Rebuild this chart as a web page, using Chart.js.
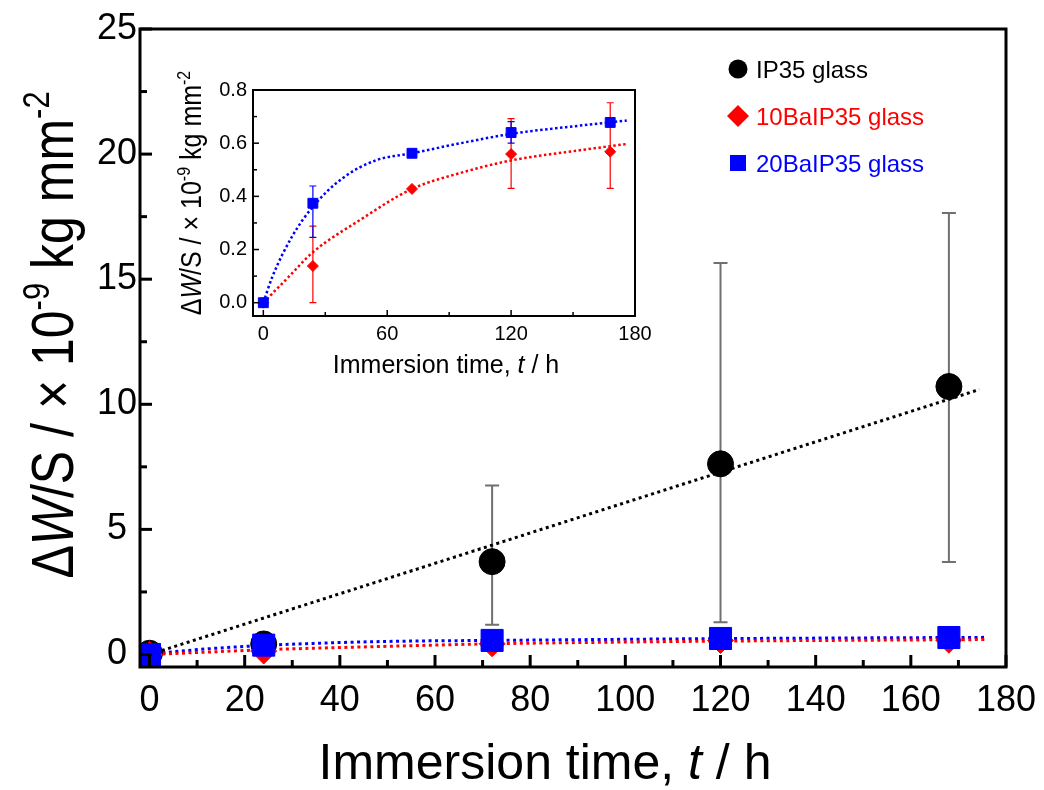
<!DOCTYPE html>
<html>
<head>
<meta charset="utf-8">
<script src="https://cdn.jsdelivr.net/npm/chart.js@4/dist/chart.umd.min.js"></script>
<style>
  html, body { margin: 0; padding: 0; background: #fff; }
  #wrap { position: relative; width: 1044px; height: 790px; }
  #mainCanvas { position: absolute; left: 0; top: 0; }
  #insetCanvas { position: absolute; left: 160px; top: 40px; }
</style>
</head>
<body>
<div id="wrap">
  <canvas id="mainCanvas" width="1044" height="790" style="width:1044px;height:790px"></canvas>
  <canvas id="insetCanvas" width="510" height="340" style="width:510px;height:340px"></canvas>
</div>
<script>
// measured points (immersion time in h, dW/S in 1e-9 kg mm^-2)
const timeH = [0, 24, 72, 120, 168];

const ip35 = [0.05, 0.42, 3.71, 7.62, 10.71];
const ip35Low = [null, null, 1.19, 1.29, 3.70];
const ip35High = [null, null, 6.75, 15.65, 17.65];

const ba10 = [0, 0.138, 0.428, 0.559, 0.568];
const ba10Low = [null, 0.0, null, 0.430, 0.430];
const ba10High = [null, 0.288, null, 0.692, 0.752];

const ba20 = [0, 0.374, 0.562, 0.640, 0.678];
const ba20Low = [null, 0.246, null, 0.600, null];
const ba20High = [null, 0.439, null, 0.681, null];

// fitted curves
const ip35FitT = [0, 174.4];
const ip35FitY = [0, 10.59];
const ba10FitT = [0, 12, 24, 46.6, 72, 95, 120, 152, 176];
const ba10FitY = [0, 0.095, 0.19, 0.31, 0.428, 0.487, 0.535, 0.572, 0.597];
const ba20FitT = [0, 4.5, 14, 24, 38.5, 54.7, 72, 95, 120, 152, 176];
const ba20FitY = [0, 0.1, 0.25, 0.361, 0.469, 0.536, 0.562, 0.599, 0.635, 0.665, 0.685];

const legendLabels = ['IP35 glass', '10BaIP35 glass', '20BaIP35 glass'];

// tick labels
const mainXTicks = [0, 20, 40, 60, 80, 100, 120, 140, 160, 180];
const mainYTicks = [0, 5, 10, 15, 20, 25];
const insetXTicks = [0, 60, 120, 180];
const insetYTicks = [0, 0.2, 0.4, 0.6, 0.8];

const FONT = "'Liberation Sans', Arial, sans-serif";
const RED = '#ff0000';
const BLUE = '#0000ff';

const toXY = (xs, ys) => xs.map((x, i) => ({ x, y: ys[i] }));
const fixTicks = list => scale => { scale.ticks = list.map(value => ({ value })); };

/* fixed axis box size, no extra label padding pushing the plot area around */
const fitBox = (prop, size) => scale => {
  scale[prop] = size;
  scale.paddingTop = scale.paddingBottom = scale.paddingLeft = scale.paddingRight = 0;
};

const yTitleParts = [
  { t: '\u0394' }, { t: 'W', i: true }, { t: '/S / \u00d7 10' }, { t: '-9', sup: true },
  { t: ' kg mm' }, { t: '-2', sup: true },
];
const xTitleParts = [{ t: 'Immersion time, ' }, { t: 't', i: true }, { t: ' / h' }];

/* draw a title made of plain / italic / superscript runs, centred on (x, y) */
function drawRich(ctx, parts, x, y, size, vertical, stretch = 1) {
  const fontOf = p => (p.i ? 'italic ' : '') + Math.round(p.sup ? size * 0.62 : size) + 'px ' + FONT;
  ctx.save();
  ctx.translate(x, y);
  if (vertical) ctx.rotate(-Math.PI / 2);
  ctx.scale(1, stretch); // letters in the original are a bit taller than wide
  let total = 0;
  parts.forEach(p => { ctx.font = fontOf(p); total += ctx.measureText(p.t).width; });
  let cx = -total / 2;
  ctx.textAlign = 'left';
  ctx.textBaseline = 'alphabetic';
  ctx.fillStyle = '#000';
  parts.forEach(p => {
    ctx.font = fontOf(p);
    ctx.fillText(p.t, cx, p.sup ? -size * 0.4 : 0);
    cx += ctx.measureText(p.t).width;
  });
  ctx.restore();
}

/* error bars, inward ticks, frame, titles and legend */
const decor = {
  id: 'decor',
  beforeDatasetsDraw(chart, args, o) {
    const { ctx, scales: { x, y } } = chart;
    ctx.save();
    chart.data.datasets.forEach(ds => {
      if (!ds.errLow) return;
      ctx.strokeStyle = ds.errColor;
      ctx.lineWidth = o.errWidth;
      ds.data.forEach((p, i) => {
        const lo = ds.errLow[i];
        const hi = ds.errHigh[i];
        if (lo == null || hi == null) return;
        const px = x.getPixelForValue(p.x);
        const y1 = y.getPixelForValue(lo);
        const y2 = y.getPixelForValue(hi);
        ctx.beginPath();
        ctx.moveTo(px, y1); ctx.lineTo(px, y2);
        ctx.moveTo(px - o.cap, y1); ctx.lineTo(px + o.cap, y1);
        ctx.moveTo(px - o.cap, y2); ctx.lineTo(px + o.cap, y2);
        ctx.stroke();
      });
    });
    ctx.restore();
  },
  afterDraw(chart, args, o) {
    const { ctx, chartArea: a, scales: { x, y } } = chart;
    ctx.save();
    ctx.strokeStyle = '#000';
    ctx.lineWidth = o.tickWidth;
    const inner = (scale, isX) => {
      const vals = scale.ticks.map(t => t.value);
      const minor = vals.slice(1).map((v, i) => (v + vals[i]) / 2);
      [[vals, o.major], [minor, o.minor]].forEach(([list, len]) => list.forEach(v => {
        const p = scale.getPixelForValue(v);
        ctx.beginPath();
        if (isX) { ctx.moveTo(p, a.bottom); ctx.lineTo(p, a.bottom - len); }
        else { ctx.moveTo(a.left, p); ctx.lineTo(a.left + len, p); }
        ctx.stroke();
      }));
    };
    inner(x, true);
    inner(y, false);
    ctx.lineWidth = o.frame;
    ctx.strokeRect(a.left, a.top, a.right - a.left, a.bottom - a.top);
    ctx.restore();

    drawRich(ctx, xTitleParts, o.xTitleAt[0], o.xTitleAt[1], o.titleSize, false);
    drawRich(ctx, yTitleParts, o.yTitleAt[0], o.yTitleAt[1], o.titleSize, true, o.yStretch);

    if (!o.legend) return;
    const { left, top, gap, size, markers } = o.legend;
    ctx.save();
    chart.data.datasets.filter(ds => ds.legendText).forEach((ds, i) => {
      const cy = top + i * gap;
      ctx.fillStyle = ds.pointBackgroundColor;
      ctx.strokeStyle = ds.pointBackgroundColor;
      Chart.helpers.drawPoint(ctx, {
        pointStyle: ds.pointStyle, radius: markers[i], rotation: 0, borderWidth: 0,
      }, left, cy);
      ctx.font = size + 'px ' + FONT;
      ctx.textAlign = 'left';
      ctx.textBaseline = 'alphabetic';
      ctx.fillText(ds.legendText, left + 18, cy + size * 0.36);
    });
    ctx.restore();
  },
};

const fitLine = (xs, ys, color, width, dash) => ({
  data: toXY(xs, ys),
  showLine: true,
  borderColor: color,
  borderWidth: width,
  borderDash: dash,
  pointRadius: 0,
  cubicInterpolationMode: 'monotone',
  order: 10,
  clip: 0,
});

const markers = (ys, color, style, radius, order, extra) => Object.assign({
  data: toXY(timeH, ys),
  showLine: false,
  pointStyle: style,
  pointRadius: radius,
  pointBackgroundColor: color,
  pointBorderColor: color,
  pointBorderWidth: 1,
  order,
  clip: 0,
}, extra);

const axisFont = size => ({ family: FONT, size });

// main chart
new Chart(document.getElementById('mainCanvas'), {
  type: 'scatter',
  data: {
    datasets: [
      fitLine(ip35FitT, ip35FitY, '#000', 3, [3, 3.5]),
      fitLine(ba10FitT, ba10FitY, RED, 3, [3, 3.5]),
      fitLine(ba20FitT, ba20FitY, BLUE, 3, [3, 3.5]),
      markers(ip35, '#000', 'circle', 13, 3,
        { errLow: ip35Low, errHigh: ip35High, errColor: '#707070', legendText: legendLabels[0] }),
      markers(ba10, RED, 'rectRot', 13, 2, { legendText: legendLabels[1] }),
      markers(ba20, BLUE, 'rect', 15.6, 1, { legendText: legendLabels[2] }),
    ],
  },
  options: {
    responsive: false,
    animation: false,
    events: [],
    layout: { padding: { top: 29, right: 38, left: 0, bottom: 0 } },
    scales: {
      x: {
        type: 'linear',
        min: -2,
        max: 180,
        afterBuildTicks: fixTicks(mainXTicks),
        afterFit: fitBox('height', 123),
        grid: { display: false, drawTicks: false },
        border: { display: false },
        ticks: { color: '#000', font: axisFont(36), padding: 12, maxRotation: 0 },
      },
      y: {
        type: 'linear',
        min: -0.5,
        max: 25,
        afterBuildTicks: fixTicks(mainYTicks),
        afterFit: fitBox('width', 140),
        grid: { display: false, drawTicks: false },
        border: { display: false },
        ticks: { color: '#000', font: axisFont(36), padding: 3, crossAlign: 'center' },
      },
    },
    plugins: {
      legend: { display: false },
      tooltip: { enabled: false },
      decor: {
        errWidth: 2, cap: 7, tickWidth: 3, major: 12, minor: 7, frame: 3,
        titleSize: 50, xTitleAt: [545, 779], yTitleAt: [73, 335], yStretch: 1.2,
        legend: { left: 738, top: 69, gap: 47, size: 24, markers: [9.5, 11, 11.3] },
      },
    },
  },
  plugins: [decor],
});

// inset chart
new Chart(document.getElementById('insetCanvas'), {
  type: 'scatter',
  data: {
    datasets: [
      fitLine(ba10FitT, ba10FitY, RED, 2.5, [2.5, 2.5]),
      fitLine(ba20FitT, ba20FitY, BLUE, 2.5, [2.5, 2.5]),
      markers(ba10, RED, 'rectRot', 5.5, 2, { errLow: ba10Low, errHigh: ba10High, errColor: RED }),
      markers(ba20, BLUE, 'rect', 7, 1, { errLow: ba20Low, errHigh: ba20High, errColor: BLUE }),
    ],
  },
  options: {
    responsive: false,
    animation: false,
    events: [],
    layout: { padding: { top: 50, right: 35, left: 0, bottom: 0 } },
    scales: {
      x: {
        type: 'linear',
        min: -5,
        max: 180,
        afterBuildTicks: fixTicks(insetXTicks),
        afterFit: fitBox('height', 64),
        grid: { display: false, drawTicks: false },
        border: { display: false },
        ticks: { color: '#000', font: axisFont(20), padding: 6, maxRotation: 0 },
      },
      y: {
        type: 'linear',
        min: -0.05,
        max: 0.8,
        afterBuildTicks: fixTicks(insetYTicks),
        afterFit: fitBox('width', 93),
        grid: { display: false, drawTicks: false },
        border: { display: false },
        ticks: { color: '#000', font: axisFont(20), padding: 6, callback: v => v.toFixed(1) },
      },
    },
    plugins: {
      legend: { display: false },
      tooltip: { enabled: false },
      decor: {
        errWidth: 1.2, cap: 3.5, tickWidth: 1.5, major: 6, minor: 4, frame: 2,
        titleSize: 25, xTitleAt: [286, 333], yTitleAt: [41, 153], yStretch: 1.15,
      },
    },
  },
  plugins: [decor],
});
</script>
</body>
</html>
